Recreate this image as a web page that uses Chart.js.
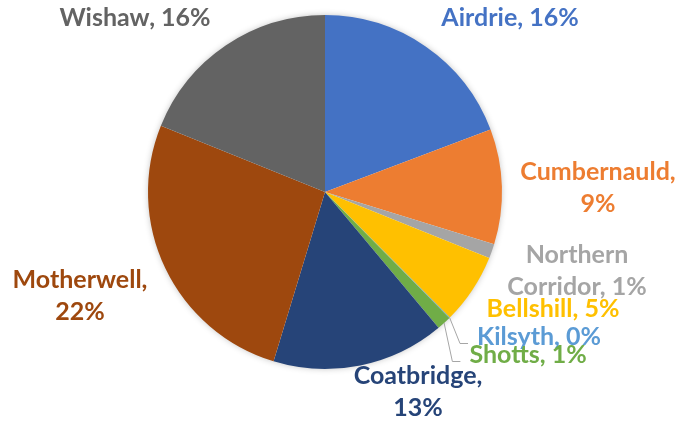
<!DOCTYPE html>
<html>
<head>
<meta charset="utf-8">
<script src="https://cdn.jsdelivr.net/npm/chart.js@4/dist/chart.umd.min.js"></script>
<style>
  html, body { margin: 0; background: #fff; }
</style>
</head>
<body>
<canvas id="pie" width="679" height="422"></canvas>
<script>
// Data (share of the pie, labels show the rounded value)
const towns = ['Airdrie', 'Cumbernauld', 'Northern Corridor', 'Bellshill', 'Kilsyth', 'Shotts', 'Coatbridge', 'Motherwell', 'Wishaw'];
const shares = [16.1, 8.8, 1.1, 5.4, 0.05, 1.1, 13.2, 22.1, 15.8];
const colours = ['#4472c4', '#ed7d31', '#a5a5a5', '#ffc000', '#5b9bd5', '#70ad47', '#264478', '#9e480e', '#636363'];
const labelLines = [
  ['Airdrie, {pct}'], ['Cumbernauld,', '{pct}'], ['Northern', 'Corridor, {pct}'],
  ['Bellshill, {pct}'], ['Kilsyth, {pct}'], ['Shotts, {pct}'],
  ['Coatbridge,', '{pct}'], ['Motherwell,', '{pct}'], ['Wishaw, {pct}']
];

// shadow under the whole disc
const discShadow = {
  id: 'discShadow',
  beforeDatasetsDraw(chart) {
    const a = chart.getDatasetMeta(0).data[0];
    const ctx = chart.ctx;
    ctx.save();
    ctx.shadowColor = 'rgba(0,0,0,0.3)';
    ctx.shadowBlur = 7;
    ctx.fillStyle = '#fff';
    ctx.beginPath();
    ctx.arc(a.x, a.y, a.outerRadius - 1, 0, Math.PI * 2);
    ctx.fill();
    ctx.restore();
  }
};

// data labels placed like the spreadsheet did, offsets from the pie centre
const sliceLabels = {
  id: 'sliceLabels',
  afterDatasetsDraw(chart, args, opts) {
    const ctx = chart.ctx;
    const arcs = chart.getDatasetMeta(0).data;
    ctx.save();
    ctx.font = opts.font;
    ctx.textAlign = 'center';
    ctx.textBaseline = 'middle';
    arcs.forEach((a, i) => {
      const spot = opts.spots[i];
      const lines = labelLines[i].map(t => t.replace('{pct}', Math.round(shares[i]) + '%'));
      const x = a.x + spot[0];
      const y0 = a.y + spot[1] - (lines.length - 1) * opts.lineHeight / 2;
      ctx.fillStyle = colours[i];
      lines.forEach((t, k) => ctx.fillText(t, x, y0 + k * opts.lineHeight));
      if (spot[2]) {
        // leader line from the slice edge to the label
        const mid = (a.startAngle + a.endAngle) / 2;
        const sx = a.x + Math.cos(mid) * a.outerRadius;
        const sy = a.y + Math.sin(mid) * a.outerRadius;
        const left = x - ctx.measureText(lines[0]).width / 2;
        const ly = y0 + 6.5;
        ctx.strokeStyle = '#a6a6a6';
        ctx.lineWidth = 1;
        ctx.beginPath();
        ctx.moveTo(sx, sy);
        ctx.lineTo(left - 17, ly);
        ctx.lineTo(left - 9, ly);
        ctx.stroke();
      }
    });
    ctx.restore();
  }
};

new Chart(document.getElementById('pie'), {
  type: 'pie',
  data: {
    labels: towns,
    datasets: [{
      data: shares,
      backgroundColor: colours,
      borderWidth: 0
    }]
  },
  options: {
    responsive: false,
    animation: false,
    layout: { padding: { left: 148, right: 177, top: 15, bottom: 53 } },
    plugins: {
      legend: { display: false },
      tooltip: { enabled: false },
      sliceLabels: {
        font: 'bold 25px Lato',
        lineHeight: 32,
        spots: [
          [185, -174], [273, -4.5], [252, 79],
          [228, 117], [214, 145, true], [203, 163, true],
          [93, 199.5], [-245, 104], [-190, -174]
        ]
      }
    }
  },
  plugins: [discShadow, sliceLabels]
});
</script>
</body>
</html>
